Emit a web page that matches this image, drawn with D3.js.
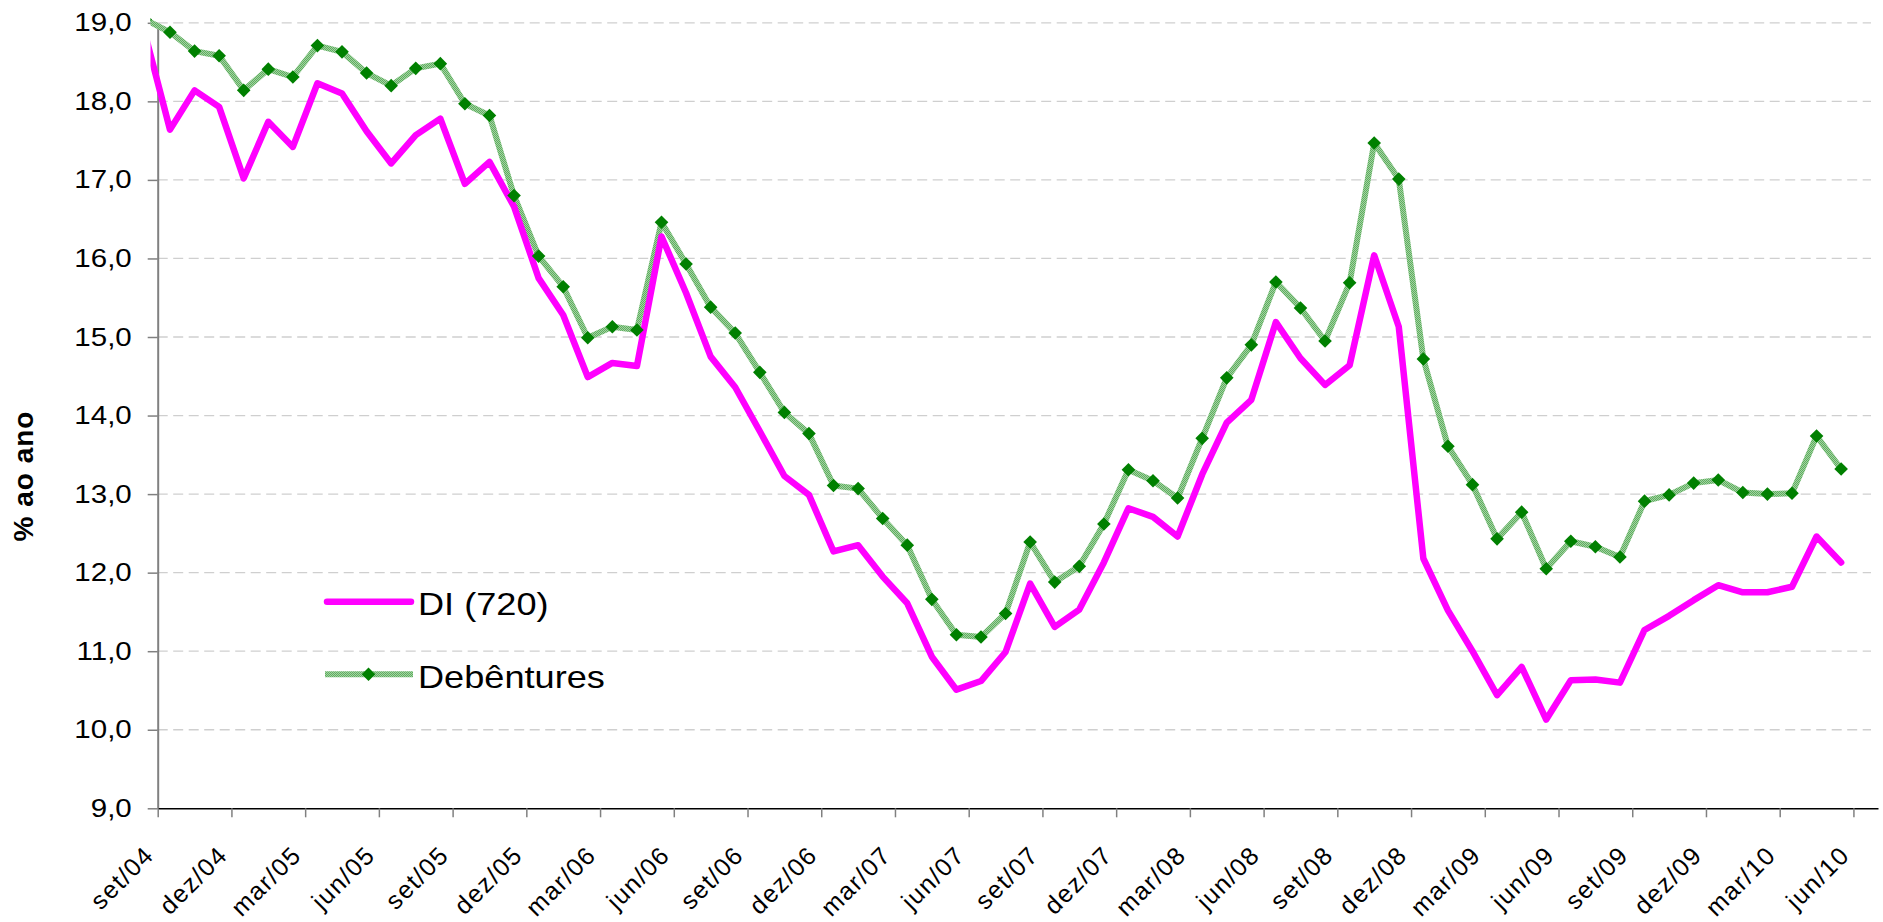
<!DOCTYPE html>
<html>
<head>
<meta charset="utf-8">
<script src="https://cdn.jsdelivr.net/npm/d3@7"></script>
<style>
  body { margin: 0; background: #fff; }
  svg text { font-family: 'Liberation Sans', Arial, sans-serif; fill: #000; }
</style>
</head>
<body>
<div id="chart"></div>
<script>
// months of the series (first point sits just left of the axis and is clipped)
var months = [
    'ago/04', 'set/04', 'out/04', 'nov/04', 'dez/04',
    'jan/05', 'fev/05', 'mar/05', 'abr/05', 'mai/05', 'jun/05', 'jul/05', 'ago/05', 'set/05', 'out/05', 'nov/05', 'dez/05',
    'jan/06', 'fev/06', 'mar/06', 'abr/06', 'mai/06', 'jun/06', 'jul/06', 'ago/06', 'set/06', 'out/06', 'nov/06', 'dez/06',
    'jan/07', 'fev/07', 'mar/07', 'abr/07', 'mai/07', 'jun/07', 'jul/07', 'ago/07', 'set/07', 'out/07', 'nov/07', 'dez/07',
    'jan/08', 'fev/08', 'mar/08', 'abr/08', 'mai/08', 'jun/08', 'jul/08', 'ago/08', 'set/08', 'out/08', 'nov/08', 'dez/08',
    'jan/09', 'fev/09', 'mar/09', 'abr/09', 'mai/09', 'jun/09', 'jul/09', 'ago/09', 'set/09', 'out/09', 'nov/09', 'dez/09',
    'jan/10', 'fev/10', 'mar/10', 'abr/10', 'mai/10'
];

var diValues = [
    18.84, 17.64, 18.14, 17.93, 17.02,
    17.74, 17.42, 18.23, 18.10, 17.62, 17.21, 17.57, 17.78, 16.95, 17.23, 16.66, 15.75,
    15.28, 14.49, 14.67, 14.63, 16.28, 15.56, 14.75, 14.36, 13.80, 13.23, 12.99, 12.27,
    12.35, 11.95, 11.61, 10.93, 10.51, 10.62, 10.99, 11.86, 11.31, 11.53, 12.13, 12.82,
    12.71, 12.46, 13.25, 13.91, 14.20, 15.19, 14.73, 14.39, 14.64, 16.04, 15.13, 12.18,
    11.52, 11.00, 10.44, 10.80, 10.13, 10.63, 10.64, 10.60, 11.27, 11.45, 11.65, 11.84,
    11.75, 11.75, 11.82, 12.46, 12.13
];

var debValues = [
    19.04, 18.88, 18.64, 18.58, 18.14,
    18.41, 18.31, 18.71, 18.63, 18.36, 18.20, 18.42, 18.48, 17.97, 17.82, 16.80, 16.03,
    15.64, 14.99, 15.13, 15.09, 16.46, 15.93, 15.38, 15.05, 14.55, 14.04, 13.77, 13.11,
    13.07, 12.69, 12.35, 11.66, 11.21, 11.18, 11.48, 12.39, 11.88, 12.08, 12.62, 13.31,
    13.17, 12.95, 13.71, 14.48, 14.90, 15.70, 15.37, 14.95, 15.69, 17.47, 17.01, 14.72,
    13.61, 13.12, 12.43, 12.77, 12.05, 12.40, 12.33, 12.20, 12.91, 12.99, 13.14, 13.18,
    13.02, 13.00, 13.01, 13.74, 13.32
];

var tickLabels = [
    'set/04', 'dez/04', 'mar/05', 'jun/05', 'set/05', 'dez/05', 'mar/06', 'jun/06',
    'set/06', 'dez/06', 'mar/07', 'jun/07', 'set/07', 'dez/07', 'mar/08', 'jun/08',
    'set/08', 'dez/08', 'mar/09', 'jun/09', 'set/09', 'dez/09', 'mar/10', 'jun/10'
];

var yTicks = [9, 10, 11, 12, 13, 14, 15, 16, 17, 18, 19];

var seriesNames = ['DI (720)', 'Debêntures'];

var svgWidth = 1883;
var svgHeight = 922;

var xLeft = 157.7;
var xRight = 1878;
var yTop = 22.8;
var yBottom = 808.3;

var svg = d3.select('#chart')
    .append('svg')
    .attr('width', svgWidth)
    .attr('height', svgHeight);

var defs = svg.append('defs');

// textured light green like the excel line
var pat = defs.append('pattern')
    .attr('id', 'greenTex')
    .attr('patternUnits', 'userSpaceOnUse')
    .attr('width', 2)
    .attr('height', 2);
pat.append('rect').attr('width', 2).attr('height', 2).attr('fill', '#a2d2a2');
pat.append('rect').attr('width', 1).attr('height', 1).attr('fill', '#5fae5f');
pat.append('rect').attr('x', 1).attr('y', 1).attr('width', 1).attr('height', 1).attr('fill', '#5fae5f');

defs.append('clipPath')
    .attr('id', 'plotClip')
    .append('rect')
    .attr('x', 150.5)
    .attr('y', 14)
    .attr('width', 1730)
    .attr('height', 800);

// x is counted in months from the start of set/04
var xScale = d3.scaleLinear()
    .domain([0, 70])
    .range([xLeft, xRight]);

var yScale = d3.scaleLinear()
    .domain([9, 19])
    .range([yBottom, yTop]);

function monthX(i) {
    return xScale(i - 1 + 0.5);
}

// gridlines
svg.append('g')
    .selectAll('line')
    .data(yTicks.filter(d => d > 9))
    .enter()
    .append('line')
    .attr('x1', xLeft)
    .attr('x2', 1871)
    .attr('y1', d => yScale(d))
    .attr('y2', d => yScale(d))
    .attr('stroke', '#cfcfcf')
    .attr('stroke-width', 1.3)
    .attr('stroke-dasharray', '10,5.5');

// y axis
var yAxis = d3.axisLeft(yScale)
    .tickValues(yTicks)
    .tickSize(10)
    .tickSizeOuter(0)
    .tickPadding(12)
    .tickFormat(d => d3.format('.1f')(d).replace('.', ','));

var yAxisG = svg.append('g')
    .attr('transform', `translate(${xLeft}, 0)`)
    .call(yAxis)
    .attr('font-family', null)
    .attr('font-size', null);

yAxisG.select('.domain').attr('stroke', '#808080').attr('stroke-width', 2);
yAxisG.selectAll('.tick line').attr('stroke', '#808080').attr('stroke-width', 1.5);
yAxisG.selectAll('.tick text')
    .attr('font-size', 25)
    .attr('transform', 'scale(1.18,1)');

// x axis
var xAxis = d3.axisBottom(xScale)
    .tickValues(d3.range(0, 70, 3))
    .tickSize(9)
    .tickSizeOuter(0)
    .tickFormat((d, i) => tickLabels[i]);

var xAxisG = svg.append('g')
    .attr('transform', `translate(0, ${yBottom})`)
    .call(xAxis)
    .attr('font-family', null)
    .attr('font-size', null);

xAxisG.select('.domain').attr('stroke', '#000').attr('stroke-width', 1.5);
xAxisG.selectAll('.tick line').attr('stroke', '#808080').attr('stroke-width', 1.5);
xAxisG.selectAll('.tick text')
    .attr('font-size', 25)
    .attr('letter-spacing', 1.5)
    .attr('x', 0)
    .attr('y', 0)
    .attr('dy', '0.35em')
    .attr('text-anchor', 'end')
    .attr('transform', 'translate(-9, 42) rotate(-45)');

// series
var plot = svg.append('g').attr('clip-path', 'url(#plotClip)');

var line = d3.line()
    .x((d, i) => monthX(i))
    .y(d => yScale(d));

plot.append('path')
    .datum(debValues)
    .attr('fill', 'none')
    .attr('stroke', 'url(#greenTex)')
    .attr('stroke-width', 6)
    .attr('stroke-linejoin', 'round')
    .attr('d', line);

plot.append('path')
    .datum(diValues)
    .attr('fill', 'none')
    .attr('stroke', '#ff00ff')
    .attr('stroke-width', 6.5)
    .attr('stroke-linejoin', 'round')
    .attr('stroke-linecap', 'round')
    .attr('d', line);

var diamond = 'M0,-6.8L6.8,0L0,6.8L-6.8,0Z';

plot.selectAll('path.marker')
    .data(debValues)
    .enter()
    .append('path')
    .attr('class', 'marker')
    .attr('d', diamond)
    .attr('fill', '#008000')
    .attr('transform', (d, i) => `translate(${monthX(i)}, ${yScale(d)})`);

// y axis title
svg.append('text')
    .attr('transform', 'translate(33, 476) rotate(-90)')
    .attr('text-anchor', 'middle')
    .attr('font-size', 28)
    .attr('font-weight', 'bold')
    .attr('letter-spacing', 1)
    .text('% ao ano');

// legend
var legend = svg.append('g');

legend.append('line')
    .attr('x1', 327).attr('x2', 411)
    .attr('y1', 601.7).attr('y2', 601.7)
    .attr('stroke', '#ff00ff')
    .attr('stroke-width', 6.5)
    .attr('stroke-linecap', 'round');

legend.append('line')
    .attr('x1', 325).attr('x2', 413)
    .attr('y1', 674.3).attr('y2', 674.3)
    .attr('stroke', 'url(#greenTex)')
    .attr('stroke-width', 6);

legend.append('path')
    .attr('d', diamond)
    .attr('fill', '#008000')
    .attr('transform', 'translate(368.5, 674.3)');

legend.selectAll('text')
    .data(seriesNames)
    .enter()
    .append('text')
    .attr('transform', (d, i) => `translate(418, ${i === 0 ? 615 : 688.3}) scale(1.13,1)`)
    .attr('font-size', 32)
    .text(d => d);
</script>
</body>
</html>
